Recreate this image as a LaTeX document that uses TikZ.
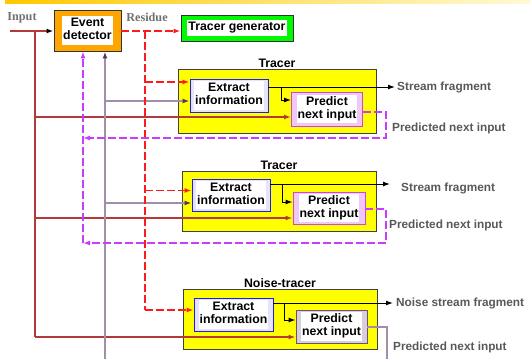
\documentclass[tikz,border=0pt]{standalone}
\usepackage{fontspec}
\setmainfont{Liberation Sans}
\newfontfamily\tagserif{Liberation Serif}
\usetikzlibrary{arrows.meta,shadows}

\definecolor{wire}{RGB}{178,58,58}
\definecolor{resid}{RGB}{255,25,25}
\definecolor{fback}{RGB}{200,60,255}
\definecolor{probe}{RGB}{160,142,170}
\definecolor{probehead}{RGB}{85,50,95}
\definecolor{txtgray}{RGB}{88,88,88}
\definecolor{serifgray}{RGB}{112,112,112}
\definecolor{edfill}{RGB}{255,165,0}
\definecolor{tgfill}{RGB}{0,250,0}
\definecolor{trfill}{RGB}{255,255,0}
\definecolor{exfill}{RGB}{228,228,250}
\definecolor{exline}{RGB}{30,30,230}
\definecolor{prfill}{RGB}{240,200,248}
\definecolor{prline}{RGB}{205,70,220}
\definecolor{nzfill}{RGB}{216,208,216}
\definecolor{nzline}{RGB}{110,80,110}
\definecolor{bandL}{RGB}{255,200,0}
\definecolor{bandR}{RGB}{255,250,215}

% text on a white patch inside a coloured box
\newcommand\whitetag[1]{{\setlength\fboxsep{1pt}\colorbox{white}{\begin{tabular}{@{}c@{}}#1\end{tabular}}}}

\begin{document}
\begin{tikzpicture}[x=1pt,y=-1pt,
  every node/.style={font=\bfseries\fontsize{11.8}{13}\selectfont, inner sep=0pt},
  boxtext/.style={font=\bfseries\fontsize{12.3}{13.3}\selectfont},
  block/.style={draw=black!80, line width=0.9pt, boxtext,
    drop shadow={shadow xshift=0.8pt,shadow yshift=-0.8pt,fill=black!70,opacity=0.5}},
  tracerbox/.style={block, fill=trfill, draw=black!75},
  exbox/.style={block, draw=exline, fill=exfill, minimum width=78pt, minimum height=33pt},
  prbox/.style={block, draw=prline, fill=prfill, minimum width=71pt, minimum height=34pt},
  title/.style={fill=white, inner sep=1.5pt, anchor=base, boxtext},
  lbl/.style={text=txtgray, anchor=west},
  sideword/.style={font=\tagserif\bfseries\fontsize{12.2}{13}\selectfont, text=serifgray},
  arr/.style={-{Latex[length=7pt,width=5pt]}},
  arrk/.style={-{Latex[length=7pt,width=5pt,color=black]}},
  arrp/.style={-{Latex[length=7pt,width=5pt,color=probehead]}},
  wireline/.style={wire, line width=1.8pt},
  resdash/.style={resid, line width=1.8pt, dash pattern=on 8pt off 3pt},
  fbdash/.style={fback, line width=1.3pt, dash pattern=on 8pt off 3pt},
  probeline/.style={probe, line width=1.4pt},
  stream/.style={black, line width=1pt}]

\useasboundingbox (0,0) rectangle (531,359);

% header band
\shade[left color=bandL, right color=bandR] (5,0) rectangle (531,3);

% side words
\node[sideword] (inlbl) at (22,17.5) {Input};
\node[sideword] (reslbl) at (147,17.5) {Residue};

% blocks
\node[block, fill=edfill, minimum width=67pt, minimum height=41pt] (ed) at (87.5,30.5) {\whitetag{Event\\detector}};
\node[block, fill=tgfill, minimum width=112pt, minimum height=26pt] (tg) at (237,28) {\whitetag{Tracer generator}};

% tracer 1
\node[tracerbox, minimum width=198pt, minimum height=64pt] (t1) at (277,101) {};
\node[title] (t1t) at ([yshift=1pt]t1.north) {Tracer};
\node[exbox] (e1) at (229,95.5) {\whitetag{Extract\\information}};
\node[prbox] (p1) at (327,109) {\whitetag{Predict\\next input}};

% tracer 2
\node[tracerbox, minimum width=194pt, minimum height=60pt] (t2) at (279,201) {};
\node[title] (t2t) at ([yshift=1pt]t2.north) {Tracer};
\node[exbox, minimum height=32pt] (e2) at (231,195) {\whitetag{Extract\\information}};
\node[prbox, minimum width=72pt, minimum height=32pt] (p2) at (329,208) {\whitetag{Predict\\next input}};

% noise tracer
\node[tracerbox, minimum width=194pt, minimum height=60pt] (t3) at (280,319) {};
\node[title] (t3t) at ([yshift=1pt]t3.north) {Noise-tracer};
\node[exbox, minimum width=79pt] (e3) at (233.5,314.5) {\whitetag{Extract\\information}};
\node[block, draw=nzline, fill=nzfill, minimum width=71pt, minimum height=33pt] (p3) at (331.5,326.5) {\whitetag{Predict\\next input}};

% input wire and its taps
\coordinate (in0) at (10,31);
\coordinate (inj) at (35,31);
\coordinate (r1) at (35,117);
\coordinate (r2) at (35,218);
\coordinate (r3) at (35,337);
\draw[wireline, arrk] (in0) -- (ed.west |- in0);
\draw[wireline] (inj) -- (r3);
\draw[wireline, arr] (r1) -- (p1.west |- r1);
\draw[wireline, arr] (r2) -- (p2.west |- r2);
\draw[wireline, arr] (r3) -- (p3.west |- r3);

% probe wire up into the detector
\coordinate (g0) at (105,359);
\coordinate (g1) at (105,101);
\coordinate (g2) at (105,203);
\draw[probeline, arrp] (g0) -- (ed.south -| g0);
\draw[probeline, arrp] (g1) -- (e1.west |- g1);
\draw[probeline, arrp] (g2) -- (e2.west |- g2);

% residue
\coordinate (q0) at (145,31);
\coordinate (q1) at (145,82);
\coordinate (q2) at (145,190.5);
\coordinate (q3) at (145,310);
\draw[resdash, arr] (ed.east |- q0) -- (tg.west |- q0);
\draw[resdash] (q0) -- (q3);
\draw[resdash, arr] (q1) -- (e1.west |- q1);
\draw[resdash, arr] (q2) -- (e2.west |- q2);
\draw[resdash, arr] (q3) -- (e3.west |- q3);

% predicted inputs fed back to the detector
\coordinate (o1) at (386,112);
\coordinate (o1b) at (386,138);
\coordinate (f1) at (83,138);
\coordinate (o2) at (386,209);
\coordinate (o2b) at (386,243);
\coordinate (f0) at (83,243);
\draw[fbdash, arr] (p1.east |- o1) -- (o1) -- (o1b) -- (f1);
\draw[fbdash, arr] (p2.east |- o2) -- (o2) -- (o2b) -- (f0);
\draw[fbdash, arr] (f0) -- (ed.south -| f0);

% noise tracer prediction leaves downwards
\coordinate (o3) at (387,327);
\coordinate (o3b) at (387,359);
\draw[probeline] (p3.east |- o3) -- (o3) -- (o3b);

% stream outputs and internal hand-over
\coordinate (s1) at (395,87);
\coordinate (b1) at (281,87);
\coordinate (b1b) at (281,100);
\draw[stream, arrk] (e1.east |- s1) -- (s1);
\draw[stream, arrk] (b1) -- (b1b) -- (p1.west |- b1b);

\coordinate (s2) at (390,184);
\coordinate (b2) at (282,184);
\coordinate (b2b) at (282,202);
\draw[stream, arrk] (e2.east |- s2) -- (s2);
\draw[stream, arrk] (b2) -- (b2b) -- (p2.west |- b2b);

\coordinate (s3) at (393,303);
\coordinate (b3) at (284,303);
\coordinate (b3b) at (284,320);
\draw[stream, arrk] (e3.east |- s3) -- (s3);
\draw[stream, arrk] (b3) -- (b3b) -- (p3.west |- b3b);

% output labels
\node[lbl] (l1) at (397,87) {Stream fragment};
\node[lbl] (l2) at (392,128) {Predicted next input};
\node[lbl] (l3) at (401,188) {Stream fragment};
\node[lbl] (l4) at (389,225) {Predicted next input};
\node[lbl] (l5) at (396,303) {Noise stream fragment};
\node[lbl] (l6) at (393,347) {Predicted next input};
\end{tikzpicture}
\end{document}
